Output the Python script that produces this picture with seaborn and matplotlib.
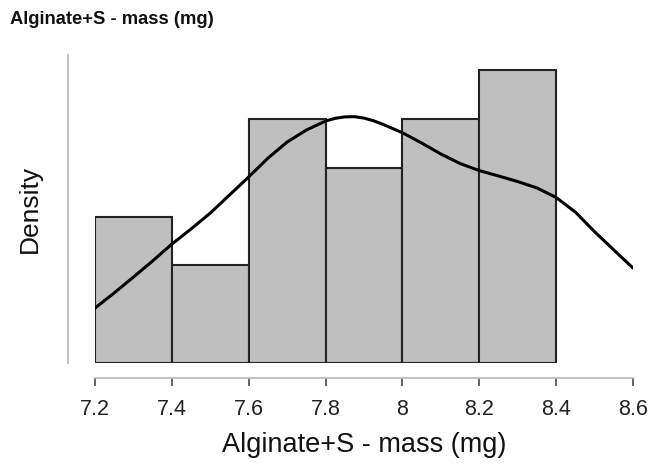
import matplotlib
matplotlib.use("Agg")
import matplotlib.pyplot as plt
import seaborn as sns
import numpy as np

# Histogram data (counts per bin)
bin_edges = [7.2, 7.4, 7.6, 7.8, 8.0, 8.2, 8.4]
bin_counts = [3, 2, 5, 4, 5, 6]

# Density curve
kde_x = [7.20, 7.25, 7.30, 7.35, 7.40, 7.45, 7.50, 7.55, 7.60, 7.65, 7.70,
         7.75, 7.80, 7.825, 7.85, 7.875, 7.90, 7.925, 7.95, 8.00, 8.05, 8.10,
         8.15, 8.20, 8.25, 8.30, 8.35, 8.40, 8.45, 8.50, 8.55, 8.60]
kde_y = [0.225, 0.287, 0.352, 0.418, 0.487, 0.549, 0.614, 0.688, 0.762, 0.839,
         0.905, 0.954, 0.991, 1.002, 1.008, 1.009, 1.003, 0.992, 0.977, 0.943,
         0.901, 0.856, 0.817, 0.788, 0.766, 0.743, 0.717, 0.678, 0.618, 0.538,
         0.463, 0.389]

x_ticks = [7.2, 7.4, 7.6, 7.8, 8.0, 8.2, 8.4, 8.6]
x_tick_labels = ["7.2", "7.4", "7.6", "7.8", "8", "8.2", "8.4", "8.6"]

sns.set_style("white")
plt.rcParams["font.family"] = ["Liberation Sans", "DejaVu Sans"]

W, H = 652, 469
fig = plt.figure(figsize=(W / 100, H / 100), dpi=100)
left_px, right_px, top_px, base_px = 95, 633, 55, 363
ax = fig.add_axes([left_px / W, (H - base_px) / H,
                   (right_px - left_px) / W, (base_px - top_px) / H])

centers = [(a + b) / 2 for a, b in zip(bin_edges[:-1], bin_edges[1:])]
sns.histplot(x=centers, weights=bin_counts, bins=bin_edges, stat="density",
             color="#bfbfbf", edgecolor="#222222", linewidth=1.5, alpha=1,
             ax=ax)
sns.lineplot(x=kde_x, y=kde_y, color="black", linewidth=2.2, ax=ax)

for s in ["top", "right"]:
    ax.spines[s].set_visible(False)
ax.spines["bottom"].set_position(("outward", 15 * 0.72))
ax.spines["left"].set_position(("outward", 27 * 0.72))
ax.spines["bottom"].set_color("#bbbbbb")
ax.spines["left"].set_color("#bbbbbb")
ax.spines["bottom"].set_linewidth(1.3)
ax.spines["left"].set_linewidth(1.3)

ax.set_xlim(7.2, 8.6)
ax.set_ylim(0, 1.2 * (base_px - top_px) / (base_px - 70))
ax.set_xticks(x_ticks)
ax.set_xticklabels(x_tick_labels, fontsize=15.5, color="#222222")
ax.set_yticks([])
ax.tick_params(axis="x", direction="out", length=6, width=1.3,
               color="#555555", pad=9, bottom=True, labelsize=15.5)

ax.set_xlabel("Alginate+S - mass (mg)", fontsize=19.5, color="#111111",
              labelpad=9)
ax.set_ylabel("Density", fontsize=19, color="#111111", labelpad=19)

fig.text(10 / W, 1 - 19 / H, "Alginate+S - mass (mg)", fontsize=13.2,
         fontweight="bold", va="center", ha="left", color="#111111")

fig.savefig("out.png", dpi=100)
